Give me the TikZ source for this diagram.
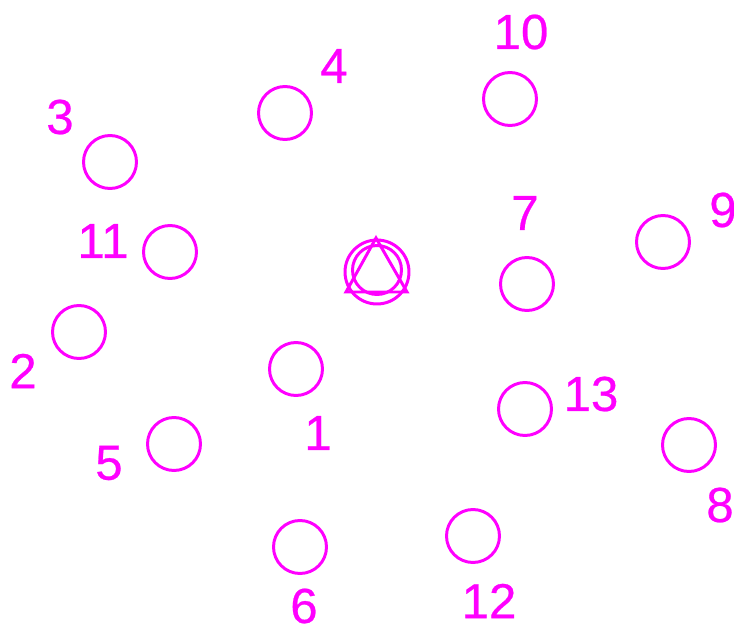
\documentclass[tikz,border=0pt]{standalone}
\usepackage{fontspec}
\setmainfont{Liberation Sans}[FakeBold=0.5]
\definecolor{padpink}{RGB}{255,0,255}
\tikzset{
  pad/.style={circle,draw=padpink,line width=1.7pt,minimum size=1.06cm,inner sep=0pt},
  padnum/.style={text=padpink,inner sep=0pt,font=\fontsize{28}{28}\selectfont}
}
\begin{document}
\begin{tikzpicture}[x=0.02cm,y=-0.02cm]
  \useasboundingbox (0,0) rectangle (734,632);
  % holes
  \node[pad] (hole1) at (296,369){};
  \node[pad] (hole2) at (79,332){};
  \node[pad] (hole3) at (110,162){};
  \node[pad] (hole4) at (285,113){};
  \node[pad] (hole5) at (174,444){};
  \node[pad] (hole6) at (300,547){};
  \node[pad] (hole7) at (527,284){};
  \node[pad] (hole8) at (689,445){};
  \node[pad] (hole9) at (663,242){};
  \node[pad] (hole10) at (510,99){};
  \node[pad] (hole11) at (170,252){};
  \node[pad] (hole12) at (473,536){};
  \node[pad] (hole13) at (525,409){};
  % numbers
  \node[padnum] (num1) at (318,433){1};
  \node[padnum] (num2) at (23,371){2};
  \node[padnum] (num3) at (60,117){3};
  \node[padnum] (num4) at (334,66){4};
  \node[padnum] (num5) at (109,463){5};
  \node[padnum] (num6) at (304,606){6};
  \node[padnum] (num7) at (525,213){7};
  \node[padnum] (num8) at (720,505){8};
  \node[padnum] (num9) at (723,210){9};
  \node[padnum] (num10) at (521,32){10};
  \node[padnum] (num11) at (103,241){11};
  \node[padnum] (num12) at (489,601){12};
  \node[padnum] (num13) at (591,394){13};
  % centre mark
  \node[pad,minimum size=1.28cm] (outer) at (377,272){};
  \node[pad,minimum size=0.98cm] (inner) at (377,270){};
  \draw[padpink,line width=1.7pt] (376,238)--(346,292)--(407,292)--cycle;
\end{tikzpicture}
\end{document}
